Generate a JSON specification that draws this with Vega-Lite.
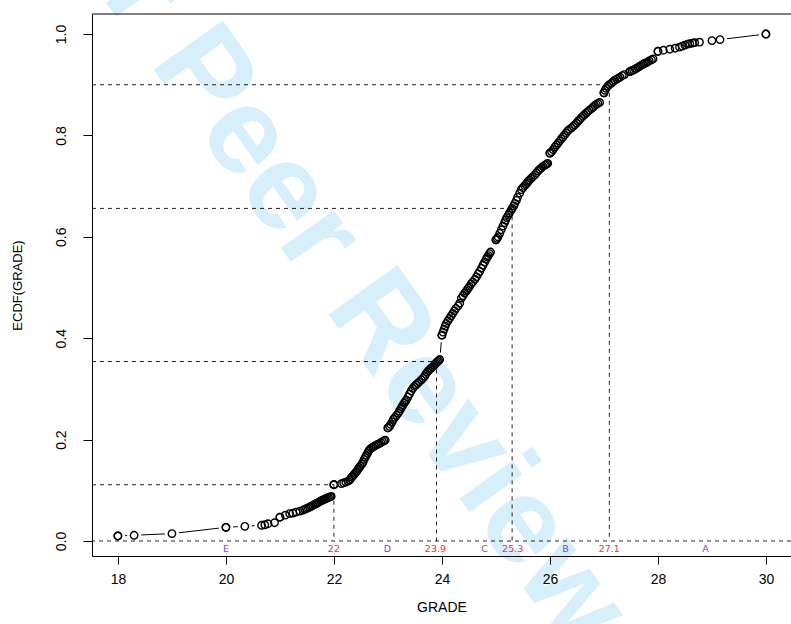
{
  "$schema": "https://vega.github.io/schema/vega-lite/v6.json",
  "autosize": {"type": "none"},
  "padding": {"left": 92, "top": 14, "right": 0, "bottom": 68},
  "width": 699,
  "height": 542,
  "background": "white",
  "config": {
    "view": {"stroke": null},
    "font": "Liberation Sans",
    "axis": {"zindex": 1, "domainColor": "black", "tickColor": "black", "labelColor": "black", "titleColor": "black", "grid": false, "labelFont": "Liberation Sans", "titleFont": "Liberation Sans", "titleFontWeight": "normal"}
  },
  "datasets": {
    "pts": [
      {"g": 18.0, "p": 0.0099}, {"g": 18.0, "p": 0.0099},
      {"g": 18.3, "p": 0.0113},
      {"g": 19.0, "p": 0.0146},
      {"g": 20.0, "p": 0.027}, {"g": 20.0, "p": 0.027},
      {"g": 20.35, "p": 0.029},
      {"g": 20.66, "p": 0.031}, {"g": 20.72, "p": 0.032}, {"g": 20.78, "p": 0.034}, {"g": 20.9, "p": 0.036},
      {"g": 21.0, "p": 0.047}, {"g": 21.0, "p": 0.047},
      {"g": 21.1, "p": 0.051}, {"g": 21.18, "p": 0.054}, {"g": 21.24, "p": 0.055}, {"g": 21.3, "p": 0.057},
      {"g": 21.37, "p": 0.059}, {"g": 21.43, "p": 0.061}, {"g": 21.46, "p": 0.0625}, {"g": 21.49, "p": 0.064},
      {"g": 21.52, "p": 0.0655}, {"g": 21.55, "p": 0.067}, {"g": 21.58, "p": 0.0685},
      {"g": 21.61, "p": 0.07}, {"g": 21.64, "p": 0.072}, {"g": 21.66, "p": 0.073}, {"g": 21.68, "p": 0.074},
      {"g": 21.7, "p": 0.075}, {"g": 21.73, "p": 0.077}, {"g": 21.76, "p": 0.079},
      {"g": 21.78, "p": 0.08}, {"g": 21.8, "p": 0.081}, {"g": 21.82, "p": 0.082}, {"g": 21.84, "p": 0.083},
      {"g": 21.86, "p": 0.084}, {"g": 21.88, "p": 0.085}, {"g": 21.9, "p": 0.086}, {"g": 21.93, "p": 0.087},
      {"g": 21.95, "p": 0.088},
      {"g": 22.0, "p": 0.111}, {"g": 22.0, "p": 0.111}, {"g": 22.0, "p": 0.111},
      {"g": 22.14, "p": 0.113}, {"g": 22.18, "p": 0.1145}, {"g": 22.22, "p": 0.116}, {"g": 22.26, "p": 0.118},
      {"g": 22.29, "p": 0.12}, {"g": 22.31, "p": 0.123}, {"g": 22.33, "p": 0.126}, {"g": 22.35, "p": 0.1285},
      {"g": 22.37, "p": 0.131}, {"g": 22.39, "p": 0.1335}, {"g": 22.41, "p": 0.136}, {"g": 22.43, "p": 0.139},
      {"g": 22.45, "p": 0.142}, {"g": 22.47, "p": 0.145}, {"g": 22.49, "p": 0.148}, {"g": 22.52, "p": 0.152},
      {"g": 22.54, "p": 0.156}, {"g": 22.56, "p": 0.161}, {"g": 22.58, "p": 0.165}, {"g": 22.6, "p": 0.169},
      {"g": 22.62, "p": 0.173}, {"g": 22.64, "p": 0.177}, {"g": 22.66, "p": 0.18}, {"g": 22.69, "p": 0.183},
      {"g": 22.72, "p": 0.185}, {"g": 22.75, "p": 0.187}, {"g": 22.78, "p": 0.189}, {"g": 22.81, "p": 0.1905},
      {"g": 22.84, "p": 0.192}, {"g": 22.87, "p": 0.194}, {"g": 22.9, "p": 0.196}, {"g": 22.93, "p": 0.198},
      {"g": 22.95, "p": 0.199},
      {"g": 23.0, "p": 0.223}, {"g": 23.0, "p": 0.223},
      {"g": 23.03, "p": 0.226}, {"g": 23.05, "p": 0.23}, {"g": 23.08, "p": 0.235}, {"g": 23.1, "p": 0.24},
      {"g": 23.13, "p": 0.244}, {"g": 23.16, "p": 0.248}, {"g": 23.19, "p": 0.252}, {"g": 23.21, "p": 0.256},
      {"g": 23.24, "p": 0.261}, {"g": 23.26, "p": 0.265}, {"g": 23.28, "p": 0.2685}, {"g": 23.3, "p": 0.272},
      {"g": 23.32, "p": 0.275}, {"g": 23.34, "p": 0.278}, {"g": 23.37, "p": 0.284}, {"g": 23.4, "p": 0.29},
      {"g": 23.43, "p": 0.296}, {"g": 23.46, "p": 0.301}, {"g": 23.49, "p": 0.305}, {"g": 23.52, "p": 0.308},
      {"g": 23.55, "p": 0.311}, {"g": 23.58, "p": 0.314}, {"g": 23.62, "p": 0.318}, {"g": 23.65, "p": 0.321},
      {"g": 23.68, "p": 0.325}, {"g": 23.7, "p": 0.329}, {"g": 23.73, "p": 0.333}, {"g": 23.75, "p": 0.336},
      {"g": 23.78, "p": 0.339}, {"g": 23.8, "p": 0.341}, {"g": 23.83, "p": 0.344}, {"g": 23.86, "p": 0.347},
      {"g": 23.88, "p": 0.35}, {"g": 23.9, "p": 0.352}, {"g": 23.92, "p": 0.354}, {"g": 23.94, "p": 0.356},
      {"g": 23.96, "p": 0.358},
      {"g": 24.0, "p": 0.406}, {"g": 24.0, "p": 0.406},
      {"g": 24.02, "p": 0.412}, {"g": 24.04, "p": 0.418}, {"g": 24.06, "p": 0.424}, {"g": 24.08, "p": 0.429},
      {"g": 24.11, "p": 0.434}, {"g": 24.14, "p": 0.439}, {"g": 24.17, "p": 0.444}, {"g": 24.2, "p": 0.449},
      {"g": 24.23, "p": 0.454}, {"g": 24.26, "p": 0.459}, {"g": 24.3, "p": 0.464}, {"g": 24.33, "p": 0.469},
      {"g": 24.36, "p": 0.479}, {"g": 24.39, "p": 0.484}, {"g": 24.42, "p": 0.489}, {"g": 24.45, "p": 0.493},
      {"g": 24.47, "p": 0.496}, {"g": 24.49, "p": 0.499}, {"g": 24.51, "p": 0.502}, {"g": 24.54, "p": 0.507},
      {"g": 24.57, "p": 0.511}, {"g": 24.61, "p": 0.516}, {"g": 24.64, "p": 0.521}, {"g": 24.67, "p": 0.527},
      {"g": 24.7, "p": 0.532}, {"g": 24.73, "p": 0.538}, {"g": 24.76, "p": 0.544}, {"g": 24.79, "p": 0.55},
      {"g": 24.82, "p": 0.556}, {"g": 24.84, "p": 0.56}, {"g": 24.86, "p": 0.563}, {"g": 24.88, "p": 0.567},
      {"g": 24.9, "p": 0.57},
      {"g": 25.0, "p": 0.594}, {"g": 25.0, "p": 0.594},
      {"g": 25.02, "p": 0.597}, {"g": 25.04, "p": 0.6}, {"g": 25.07, "p": 0.607}, {"g": 25.1, "p": 0.614},
      {"g": 25.13, "p": 0.621}, {"g": 25.16, "p": 0.628}, {"g": 25.18, "p": 0.633}, {"g": 25.2, "p": 0.638},
      {"g": 25.23, "p": 0.643}, {"g": 25.25, "p": 0.647}, {"g": 25.28, "p": 0.652}, {"g": 25.3, "p": 0.656},
      {"g": 25.33, "p": 0.661}, {"g": 25.35, "p": 0.666}, {"g": 25.38, "p": 0.672}, {"g": 25.4, "p": 0.678},
      {"g": 25.44, "p": 0.686}, {"g": 25.47, "p": 0.693}, {"g": 25.5, "p": 0.697}, {"g": 25.53, "p": 0.701},
      {"g": 25.56, "p": 0.704}, {"g": 25.58, "p": 0.707}, {"g": 25.6, "p": 0.71}, {"g": 25.62, "p": 0.712},
      {"g": 25.65, "p": 0.715}, {"g": 25.68, "p": 0.718}, {"g": 25.72, "p": 0.722}, {"g": 25.75, "p": 0.726},
      {"g": 25.78, "p": 0.73}, {"g": 25.81, "p": 0.733}, {"g": 25.84, "p": 0.736}, {"g": 25.87, "p": 0.739},
      {"g": 25.9, "p": 0.741}, {"g": 25.92, "p": 0.742}, {"g": 25.94, "p": 0.744}, {"g": 25.96, "p": 0.745},
      {"g": 26.0, "p": 0.765}, {"g": 26.0, "p": 0.765},
      {"g": 26.03, "p": 0.768}, {"g": 26.06, "p": 0.772}, {"g": 26.09, "p": 0.777}, {"g": 26.12, "p": 0.781},
      {"g": 26.15, "p": 0.785}, {"g": 26.18, "p": 0.789}, {"g": 26.21, "p": 0.793}, {"g": 26.24, "p": 0.797},
      {"g": 26.27, "p": 0.801}, {"g": 26.3, "p": 0.805}, {"g": 26.33, "p": 0.809}, {"g": 26.36, "p": 0.812},
      {"g": 26.4, "p": 0.815}, {"g": 26.43, "p": 0.818}, {"g": 26.46, "p": 0.821}, {"g": 26.49, "p": 0.824},
      {"g": 26.52, "p": 0.828}, {"g": 26.55, "p": 0.831}, {"g": 26.58, "p": 0.835}, {"g": 26.61, "p": 0.838},
      {"g": 26.64, "p": 0.841}, {"g": 26.67, "p": 0.844}, {"g": 26.7, "p": 0.847}, {"g": 26.73, "p": 0.85},
      {"g": 26.77, "p": 0.853}, {"g": 26.8, "p": 0.856}, {"g": 26.83, "p": 0.859}, {"g": 26.86, "p": 0.861},
      {"g": 26.89, "p": 0.863}, {"g": 26.92, "p": 0.865},
      {"g": 27.0, "p": 0.884}, {"g": 27.0, "p": 0.884},
      {"g": 27.02, "p": 0.889}, {"g": 27.04, "p": 0.893}, {"g": 27.07, "p": 0.897}, {"g": 27.1, "p": 0.9},
      {"g": 27.14, "p": 0.903}, {"g": 27.17, "p": 0.906}, {"g": 27.2, "p": 0.909}, {"g": 27.24, "p": 0.911},
      {"g": 27.27, "p": 0.913}, {"g": 27.3, "p": 0.915}, {"g": 27.34, "p": 0.918}, {"g": 27.38, "p": 0.92},
      {"g": 27.48, "p": 0.926}, {"g": 27.48, "p": 0.926},
      {"g": 27.52, "p": 0.928}, {"g": 27.55, "p": 0.929}, {"g": 27.58, "p": 0.931}, {"g": 27.6, "p": 0.932},
      {"g": 27.63, "p": 0.934}, {"g": 27.66, "p": 0.936}, {"g": 27.69, "p": 0.938}, {"g": 27.72, "p": 0.94},
      {"g": 27.75, "p": 0.942}, {"g": 27.78, "p": 0.943}, {"g": 27.81, "p": 0.945}, {"g": 27.84, "p": 0.947},
      {"g": 27.88, "p": 0.949}, {"g": 27.91, "p": 0.951},
      {"g": 28.0, "p": 0.966}, {"g": 28.0, "p": 0.966},
      {"g": 28.1, "p": 0.968}, {"g": 28.22, "p": 0.97}, {"g": 28.32, "p": 0.972}, {"g": 28.4, "p": 0.974},
      {"g": 28.45, "p": 0.976}, {"g": 28.5, "p": 0.978}, {"g": 28.55, "p": 0.98}, {"g": 28.59, "p": 0.981},
      {"g": 28.64, "p": 0.982}, {"g": 28.68, "p": 0.983}, {"g": 28.77, "p": 0.984},
      {"g": 29.0, "p": 0.987}, {"g": 29.15, "p": 0.989},
      {"g": 30.0, "p": 1.0}, {"g": 30.0, "p": 1.0}
    ],
    "cuts": [
      {"cut": 22.0, "p": 0.111, "left": 17.52, "zero": 0},
      {"cut": 23.9, "p": 0.354, "left": 17.52, "zero": 0},
      {"cut": 25.3, "p": 0.656, "left": 17.52, "zero": 0},
      {"cut": 27.1, "p": 0.9, "left": 17.52, "zero": 0}
    ],
    "labels": [
      {"g": 20.0, "lab": "E", "kind": "grade"},
      {"g": 22.0, "lab": "22", "kind": "cut"},
      {"g": 22.99, "lab": "D", "kind": "grade"},
      {"g": 23.88, "lab": "23.9", "kind": "cut"},
      {"g": 24.79, "lab": "C", "kind": "grade"},
      {"g": 25.31, "lab": "25.3", "kind": "cut"},
      {"g": 26.29, "lab": "B", "kind": "grade"},
      {"g": 27.1, "lab": "27.1", "kind": "cut"},
      {"g": 28.88, "lab": "A", "kind": "grade"}
    ]
  },
  "layer": [
    {
      "data": {"name": "pts"},
      "mark": {"type": "line", "color": "black", "strokeWidth": 1},
      "encoding": {
        "x": {"field": "g", "type": "quantitative",
              "scale": {"domain": [17.52, 30.4644], "nice": false, "zero": false},
              "axis": {"zindex": 2, "values": [18, 20, 22, 24, 26, 28, 30], "tickSize": 8, "labelFontSize": 14, "labelPadding": 8,
                       "title": "GRADE", "titleFontSize": 14, "titlePadding": 14, "domainWidth": 1}},
        "y": {"field": "p", "type": "quantitative",
              "scale": {"domain": [-0.0296, 1.0395], "nice": false, "zero": false},
              "axis": {"zindex": 2, "values": [0, 0.2, 0.4, 0.6, 0.8, 1.0], "format": ".1f", "tickSize": 9, "labelFontSize": 14,
                       "labelAngle": 270, "labelAlign": "center", "labelBaseline": "alphabetic", "labelPadding": 18,
                       "title": "ECDF(GRADE)", "titleFontSize": 13, "titlePadding": 30, "domainWidth": 1}}
      }
    },
    {
      "data": {"name": "pts"},
      "mark": {"type": "point", "filled": true, "color": "white", "opacity": 1, "size": 200, "strokeWidth": 0},
      "encoding": {
        "x": {"field": "g", "type": "quantitative"},
        "y": {"field": "p", "type": "quantitative"}
      }
    },
    {
      "data": {"values": [{"label": "For Peer Review", "gx": 21.78, "py": 0.59}]},
      "mark": {"type": "text", "font": "Liberation Sans", "fontWeight": "bold", "fontSize": 123, "angle": 54.5,
               "align": "center", "baseline": "middle", "color": "#d6effb"},
      "encoding": {
        "x": {"field": "gx", "type": "quantitative"},
        "y": {"field": "py", "type": "quantitative"},
        "text": {"field": "label"}
      }
    },
    {
      "data": {"values": [{"h": 0}]},
      "mark": {"type": "rule", "color": "#222", "strokeWidth": 1, "strokeDash": [4, 4]},
      "encoding": {"y": {"field": "h", "type": "quantitative"}}
    },
    {
      "data": {"name": "cuts"},
      "mark": {"type": "rule", "color": "#222", "strokeWidth": 1, "strokeDash": [4, 4]},
      "encoding": {
        "x": {"field": "cut", "type": "quantitative"},
        "y": {"field": "p", "type": "quantitative"},
        "y2": {"field": "zero"}
      }
    },
    {
      "data": {"name": "cuts"},
      "mark": {"type": "rule", "color": "#222", "strokeWidth": 1, "strokeDash": [4, 4]},
      "encoding": {
        "x": {"field": "left", "type": "quantitative"},
        "x2": {"field": "cut"},
        "y": {"field": "p", "type": "quantitative"}
      }
    },
    {
      "data": {"values": [{"top": 1.0395}]},
      "mark": {"type": "rule", "color": "black", "strokeWidth": 1},
      "encoding": {"y": {"field": "top", "type": "quantitative"}}
    },
    {
      "data": {"name": "pts"},
      "mark": {"type": "point", "filled": false, "color": "black", "size": 55, "strokeWidth": 1.4, "opacity": 1},
      "encoding": {
        "x": {"field": "g", "type": "quantitative"},
        "y": {"field": "p", "type": "quantitative"}
      }
    },
    {
      "data": {"name": "labels"},
      "mark": {"type": "text", "font": "DejaVu Sans", "fontSize": 9.5, "align": "center", "baseline": "middle"},
      "encoding": {
        "x": {"field": "g", "type": "quantitative"},
        "y": {"datum": -0.0152},
        "text": {"field": "lab"},
        "color": {"field": "kind", "type": "nominal", "scale": {"domain": ["grade", "cut"], "range": ["#8a3cf5", "#ff2a35"]}, "legend": null}
      }
    }
  ]
}
